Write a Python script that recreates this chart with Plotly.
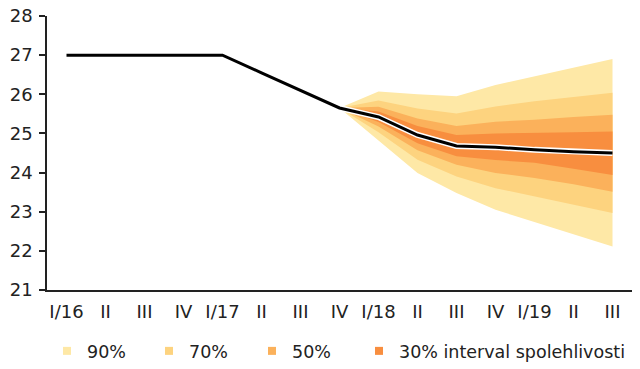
import plotly.graph_objects as go

categories = ["I/16", "II ", "III ", "IV ", "I/17", "II  ", "III  ", "IV  ",
              "I/18", "II", "III", "IV", "I/19", "II   ", "III   "]
tick_labels = ["I/16", "II", "III", "IV", "I/17", "II", "III", "IV",
               "I/18", "II", "III", "IV", "I/19", "II", "III"]

central = [27.0, 27.0, 27.0, 27.0, 27.0, 26.55, 26.1, 25.65,
           25.42, 24.96, 24.68, 24.65, 24.58, 24.53, 24.5]

# fan from IV/17 onward
fan_cats = categories[7:]
upper90 = [25.65, 26.07, 26.00, 25.95, 26.24, 26.46, 26.68, 26.90]
upper70 = [25.65, 25.84, 25.64, 25.51, 25.69, 25.82, 25.93, 26.04]
upper50 = [25.65, 25.68, 25.38, 25.19, 25.30, 25.35, 25.42, 25.48]
upper30 = [25.65, 25.56, 25.19, 24.96, 25.00, 25.01, 25.03, 25.05]
lower30 = [25.65, 25.29, 24.75, 24.42, 24.32, 24.25, 24.10, 23.94]
lower50 = [25.65, 25.18, 24.57, 24.20, 23.99, 23.86, 23.70, 23.51]
lower70 = [25.65, 25.03, 24.33, 23.90, 23.60, 23.39, 23.18, 22.97]
lower90 = [25.65, 24.82, 23.99, 23.48, 23.05, 22.75, 22.43, 22.11]

band_names = ["90%", "70%", "50%", "30% interval spolehlivosti"]
band_colors = ["#FEE8A6", "#FDD37F", "#FBB15B", "#F88E3F"]
bands = [(upper90, lower90), (upper70, lower70), (upper50, lower50), (upper30, lower30)]

font_family = "DejaVu Sans"
text_color = "#222222"

FIG_W, FIG_H = 640, 369

fig = go.Figure()

for (up, lo), color in zip(bands, band_colors):
    fig.add_trace(go.Scatter(
        x=fan_cats + fan_cats[::-1],
        y=up + lo[::-1],
        fill="toself", fillcolor=color, mode="lines",
        line=dict(width=0, color=color),
        showlegend=False, hoverinfo="skip",
    ))

fig.add_trace(go.Scatter(x=categories, y=central, mode="lines",
                         line=dict(color="white", width=6), showlegend=False,
                         hoverinfo="skip"))
fig.add_trace(go.Scatter(x=categories, y=central, mode="lines",
                         line=dict(color="black", width=3), showlegend=False))

legend_ids = ["legend", "legend2", "legend3", "legend4"]
legend_left_px = [47, 149, 252, 359]
for name, color, lid in zip(band_names, band_colors, legend_ids):
    fig.add_trace(go.Scatter(x=[None], y=[None], mode="markers", name=name,
                             legend=lid,
                             marker=dict(symbol="square", size=8, color=color)))

legend_common = dict(orientation="h", xref="container", yref="container",
                     xanchor="left", yanchor="middle", y=1 - 351 / FIG_H,
                     font=dict(size=17.5, family=font_family, color=text_color),
                     bgcolor="rgba(0,0,0,0)", borderwidth=0)
legend_layout = {}
for lid, px in zip(legend_ids, legend_left_px):
    legend_layout[lid] = dict(legend_common, x=px / FIG_W)

fig.update_layout(
    width=FIG_W, height=FIG_H,
    margin=dict(l=47, r=8, t=16, b=79, autoexpand=False),
    paper_bgcolor="white", plot_bgcolor="white",
    font=dict(family=font_family, size=18, color=text_color),
    showlegend=True,
    **legend_layout,
)

fig.update_xaxes(
    type="category", categoryorder="array", categoryarray=categories,
    tickmode="array", tickvals=categories, ticktext=tick_labels,
    range=[-0.5, 14.5], automargin=False,
    showline=True, linecolor="#222222", linewidth=1.5,
    ticks="", showgrid=False, zeroline=False,
    ticklabelstandoff=5, ticklabeloverflow="allow",
)
fig.update_yaxes(
    range=[21, 28], dtick=1, tick0=21, automargin=False,
    showline=True, linecolor="#222222", linewidth=1.5,
    ticks="outside", ticklen=6, tickcolor="#222222", tickwidth=1.5,
    showgrid=False, zeroline=False, ticklabelstandoff=3,
    ticklabeloverflow="allow",
)

fig.write_html("out.html",
               config={"displayModeBar": False},
               post_script="document.body.style.margin='0';document.body.style.overflow='hidden';")
